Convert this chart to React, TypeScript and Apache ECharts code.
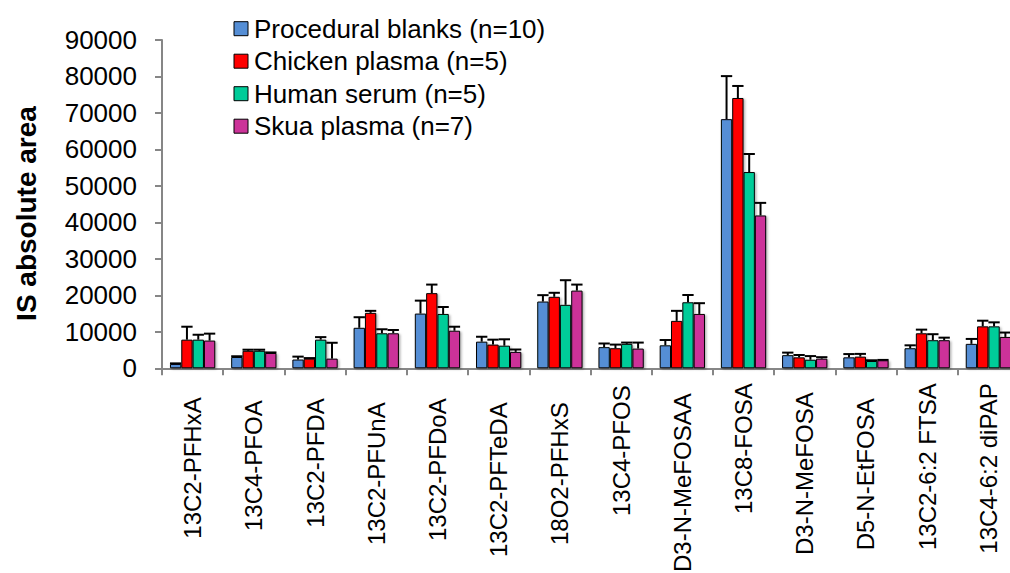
import React, { useEffect, useRef } from "react";
import * as echarts from "echarts";

const categories = [
  "13C2-PFHxA", "13C4-PFOA", "13C2-PFDA", "13C2-PFUnA", "13C2-PFDoA", "13C2-PFTeDA",
  "18O2-PFHxS", "13C4-PFOS", "D3-N-MeFOSAA", "13C8-FOSA", "D3-N-MeFOSA", "D5-N-EtFOSA",
  "13C2-6:2 FTSA", "13C4-6:2 diPAP",
];
const seriesNames = [
  "Procedural blanks (n=10)", "Chicken plasma (n=5)", "Human serum (n=5)", "Skua plasma (n=7)",
];
const blanks = [1200, 3100, 2400, 11100, 15000, 7300, 18300, 5800, 6300, 68300, 3600, 3000, 5500, 6700];
const blanksErr = [150, 200, 800, 2900, 3550, 1350, 1750, 1000, 1450, 11800, 700, 900, 800, 1350];
const chicken = [7850, 4800, 2650, 15200, 20600, 6500, 19600, 5500, 13000, 74100, 3000, 3200, 9600, 11500];
const chickenErr = [3550, 300, 150, 550, 2350, 1350, 1100, 1000, 2750, 3300, 650, 750, 1000, 1550];
const human = [7850, 4800, 7850, 9600, 14900, 6200, 17400, 6700, 18100, 53800, 2350, 2000, 7700, 11500];
const humanErr = [1350, 300, 700, 1100, 1900, 1750, 6750, 350, 2000, 4950, 1000, 200, 1650, 1100];
const skua = [7600, 4200, 2650, 9600, 10300, 4500, 21300, 5400, 14900, 41900, 2650, 2200, 7700, 8600];
const skuaErr = [1900, 150, 4350, 900, 1100, 650, 1650, 1650, 2950, 3450, 400, 100, 700, 1200];
const labelExtra = [14, 17, 15, 19, 15, 19, 19, 2, 10, 0, 9, 15, 0, 0];
const colors = ["#558ED5", "#FF0000", "#00CC99", "#CC3399"];

const FONT = "'Liberation Sans', Arial, sans-serif";
const GAP = 0.26;
const LEGEND_X = 234;
const LEGEND_Y0 = 28.7;
const LEGEND_STEP = 32.5;

export default function App() {
  const ref = useRef<HTMLDivElement>(null);
  useEffect(() => {
    if (!ref.current) return;
    const chart = echarts.init(ref.current, null, { renderer: "svg" });
    const values = [blanks, chicken, human, skua];
    const errs = [blanksErr, chickenErr, humanErr, skuaErr];
    const barSeries = values.map((vals, si) => ({
      type: "bar",
      name: seriesNames[si],
      data: vals,
      barGap: "0%",
      barCategoryGap: GAP * 100 + "%",
      z: 3,
      itemStyle: {
        color: colors[si],
        borderColor: "#000",
        borderWidth: 1,
        shadowColor: "rgba(0,0,0,0.3)",
        shadowBlur: 2,
        shadowOffsetX: 1.5,
        shadowOffsetY: 1,
      },
    }));
    const errSeries = values.map((vals, si) => ({
      type: "custom",
      name: "err" + si,
      z: 2,
      data: vals.map((v, i) => [i, v, errs[si][i]]),
      renderItem: (params: any, api: any) => {
        const idx = api.value(0);
        const v = api.value(1);
        const e = api.value(2);
        const base = api.coord([idx, v]);
        const top = api.coord([idx, v + e]);
        const band = api.size([1, 0])[0];
        const bw = (band * (1 - GAP)) / 4;
        const x = base[0] + (si - 1.5) * bw;
        return {
          type: "group",
          children: [
            { type: "line", shape: { x1: x, y1: base[1], x2: x, y2: top[1] }, style: { stroke: "#000", lineWidth: 2 } },
            { type: "line", shape: { x1: x - bw / 2, y1: top[1], x2: x + bw / 2, y2: top[1] }, style: { stroke: "#000", lineWidth: 2 } },
          ],
        };
      },
    }));
    const legendGraphics: any[] = [];
    seriesNames.forEach((name, i) => {
      const cy = LEGEND_Y0 + i * LEGEND_STEP;
      legendGraphics.push({
        type: "rect",
        shape: { x: LEGEND_X, y: cy - 7, width: 14, height: 14 },
        style: { fill: colors[i], stroke: "#000", lineWidth: 1 },
      });
      legendGraphics.push({
        type: "text",
        x: LEGEND_X + 20,
        y: cy,
        style: {
          text: name,
          fontSize: 26,
          fontFamily: FONT,
          fill: "#000",
          align: "left",
          verticalAlign: "middle",
        },
      });
    });
    chart.setOption({
      animation: false,
      backgroundColor: "#fff",
      textStyle: { fontFamily: FONT },
      grid: { left: 162, top: 40, right: -9, bottom: 204.7, outerBoundsMode: "none", containLabel: false },
      xAxis: {
        type: "category",
        data: categories.map((c, i) => ({ value: c, textStyle: { padding: [0, labelExtra[i], 0, 0] } })),
        axisLine: { lineStyle: { color: "#868686", width: 2 } },
        axisTick: { show: true, length: 7, lineStyle: { color: "#868686", width: 2 } },
        axisLabel: { rotate: 90, interval: 0, margin: 15, fontSize: 24, color: "#000", fontFamily: FONT },
      },
      yAxis: {
        type: "value",
        min: 0,
        max: 90000,
        interval: 10000,
        splitLine: { show: false },
        axisLine: { show: true, lineStyle: { color: "#868686", width: 2 } },
        axisTick: { show: true, length: 7, lineStyle: { color: "#868686", width: 2 } },
        axisLabel: {
          margin: 25,
          fontSize: 26,
          color: "#000",
          fontFamily: FONT,
          formatter: (v: number) => String(v),
        },
      },
      graphic: [
        {
          type: "text",
          x: 26,
          y: 213.5,
          rotation: Math.PI / 2,
          style: {
            text: "IS absolute area",
            fontSize: 28,
            fontWeight: "bold",
            fontFamily: FONT,
            fill: "#000",
            align: "center",
            verticalAlign: "middle",
          },
        },
        ...legendGraphics,
      ],
      series: [...errSeries, ...barSeries],
    });
    return () => chart.dispose();
  }, []);
  return (
    <div
      ref={ref}
      style={{ position: "absolute", left: 0, top: 0, width: 1010, height: 573 }}
    />
  );
}
